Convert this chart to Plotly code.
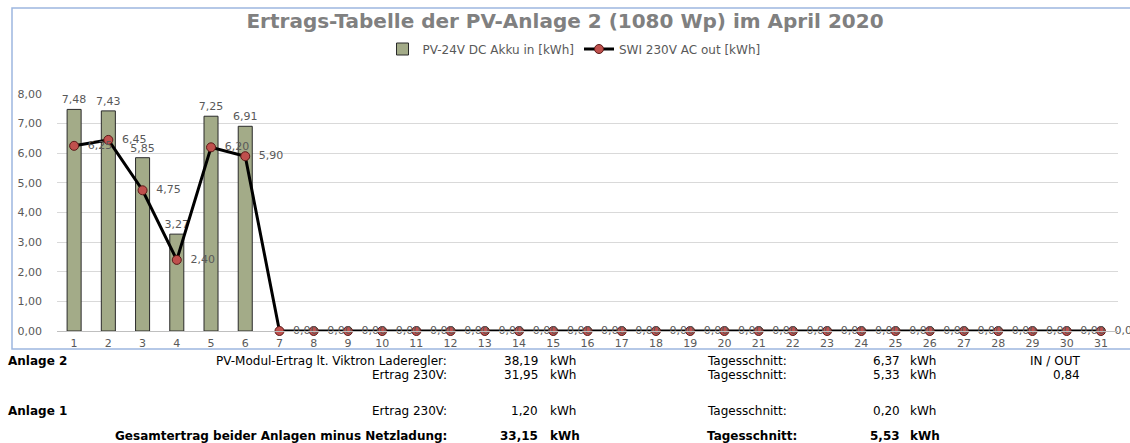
import plotly.graph_objects as go

# ---------------- data ----------------
days = [str(d) for d in range(1, 32)]
dc_akku_in = [7.48, 7.43, 5.85, 3.27, 7.25, 6.91] + [None] * 25
ac_out = [6.25, 6.45, 4.75, 2.40, 6.20, 5.90] + [0.0] * 25
y_ticks = [0, 1, 2, 3, 4, 5, 6, 7, 8]

title_text = "Ertrags-Tabelle der PV-Anlage 2 (1080 Wp) im April 2020"
series_names = ["PV-24V DC Akku in [kWh]", "SWI 230V AC out [kWh]"]

# summary table below the chart
row_heads = ["Anlage 2", "", "Anlage 1", ""]
row_labels = ["PV-Modul-Ertrag lt. Viktron Laderegler:", "Ertrag 230V:", "Ertrag 230V:",
              "Gesamtertrag beider Anlagen minus Netzladung:"]
row_values = ["38,19", "31,95", "1,20", "33,15"]
row_avg = ["6,37", "5,33", "0,20", "5,53"]
row_bold = [False, False, False, True]
inout_label = "IN / OUT"
inout_value = "0,84"

# ---------------- layout geometry (pixels) ----------------
W, H = 1130, 443
PL, PR, PT, PB = 57, 1118, 94, 331  # plot area in px


def xp(px):
    return (px - PL) / (PR - PL)


def yp(py):
    return (PB - py) / (PB - PT)


GRAY = "#595959"
FONT = "DejaVu Sans"

fig = go.Figure()
fig.add_trace(go.Bar(
    x=days, y=dc_akku_in, name=series_names[0],
    marker=dict(color="#A3AB88", line=dict(color="#2A2A2A", width=1)),
    texttemplate="%{y:.2f}", textposition="outside", constraintext="none",
    textfont=dict(family=FONT, size=11, color=GRAY),
    cliponaxis=False,
))
fig.add_trace(go.Scatter(
    x=days, y=ac_out, name=series_names[1], mode="lines+markers+text",
    line=dict(color="#000000", width=3),
    marker=dict(size=9, color="#C0504D", line=dict(color="#5A1A18", width=1)),
    texttemplate="  %{y:.2f}", textposition="middle right",
    textfont=dict(family=FONT, size=11, color=GRAY),
    cliponaxis=False,
))

annotations = []


def add_text(px, py, text, anchor, bold=False, size=12):
    annotations.append(dict(
        x=xp(px), y=yp(py), xref="paper", yref="paper", text=f"<b>{text}</b>" if bold else text,
        showarrow=False, xanchor=anchor, yanchor="middle",
        font=dict(family=FONT, size=size, color="#000000"),
    ))


row_y = [360.5, 375, 411, 436]
for i in range(4):
    b = row_bold[i]
    if row_heads[i]:
        add_text(6, row_y[i], row_heads[i], "left", bold=True)
    add_text(449, row_y[i], row_labels[i], "right", bold=b)
    add_text(540, row_y[i], row_values[i], "right", bold=b)
    add_text(548, row_y[i], "kWh", "left", bold=b)
    add_text(705, row_y[i], "Tagesschnitt:", "left", bold=b)
    add_text(902, row_y[i], row_avg[i], "right", bold=b)
    add_text(908, row_y[i], "kWh", "left", bold=b)
add_text(1082, row_y[0], inout_label, "right")
add_text(1082, row_y[1], inout_value, "right")

fig.update_layout(
    width=W, height=H,
    margin=dict(l=PL, r=W - PR, t=PT, b=H - PB, autoexpand=False),
    paper_bgcolor="white", plot_bgcolor="white",
    separators=",.",
    bargap=0.59,
    title=dict(text=title_text, x=565 / W, xanchor="center", xref="container",
               y=1 - 21 / H, yanchor="middle", yref="container",
               font=dict(family=FONT, size=20, color="#808080", weight="bold")),
    legend=dict(orientation="h", x=574 / W, xanchor="center", xref="container",
                y=1 - 49 / H, yanchor="middle", yref="container",
                font=dict(family=FONT, size=12, color=GRAY),
                itemwidth=30, tracegroupgap=0, bgcolor="rgba(0,0,0,0)"),
    xaxis=dict(type="category", range=[-0.5, 30.5],
               tickfont=dict(family=FONT, size=11, color=GRAY),
               showgrid=False, showline=True, linecolor="#BFBFBF", ticks="",
               ticklabelstandoff=2),
    yaxis=dict(range=[0, 8], tickvals=y_ticks, tickformat=".2f",
               tickfont=dict(family=FONT, size=11, color=GRAY),
               showgrid=True, gridcolor="#D9D9D9", zeroline=False, showline=False,
               ticklabelstandoff=14),
    annotations=annotations,
    shapes=[dict(type="rect", xref="paper", yref="paper",
                 x0=xp(12), x1=xp(1131), y0=yp(349), y1=yp(8),
                 line=dict(color="#9DB7E0", width=1.5), layer="below")],
    showlegend=True,
)

fig.write_html("out.html", config={"displayModeBar": False},
               post_script="document.body.style.margin='0';document.body.style.overflow='hidden';")
